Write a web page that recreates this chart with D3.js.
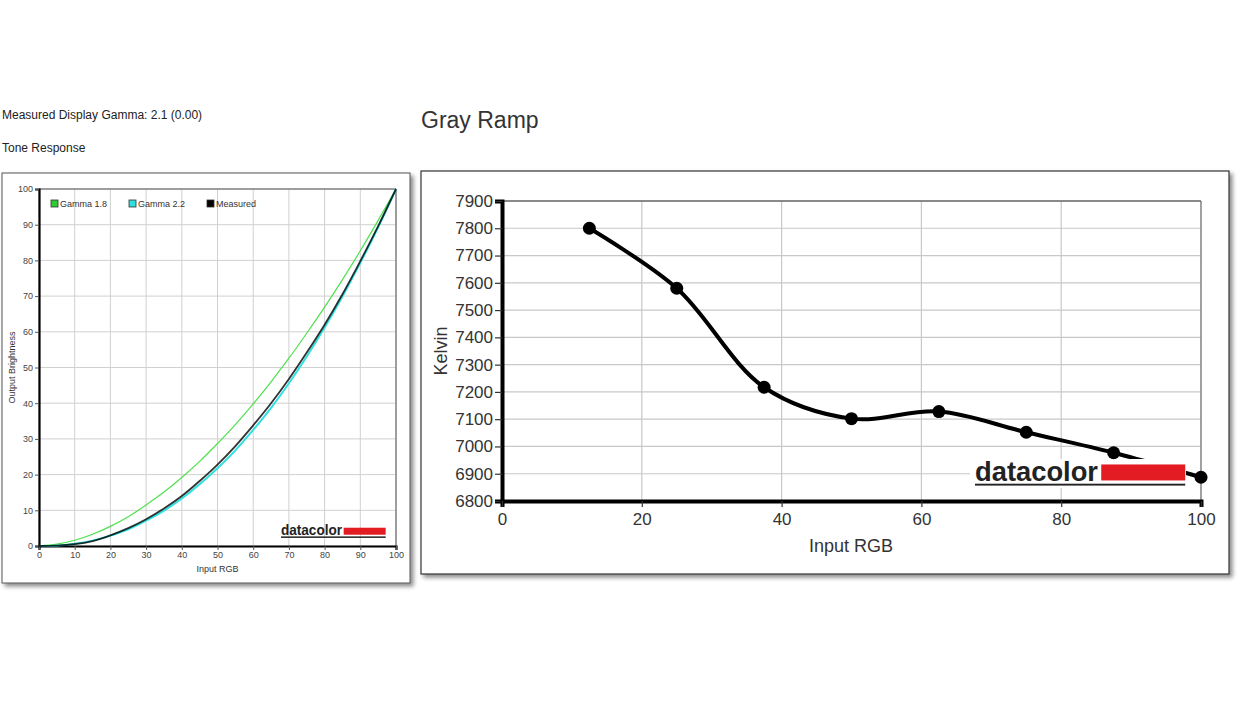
<!DOCTYPE html>
<html>
<head>
<meta charset="utf-8">
<script src="https://cdn.jsdelivr.net/npm/d3@7"></script>
<style>
  body { margin: 0; background: #fff; }
  svg { display: block; font-family: "Liberation Sans", Arial, sans-serif; }
</style>
</head>
<body>
<svg id="chart" width="1246" height="701"></svg>
<script>
// Tone response data
const toneX    = [0, 5, 10, 15, 20, 25, 30, 35, 40, 45, 50, 55, 60, 65, 70, 75, 80, 85, 90, 95, 100];
const gamma18  = [0, 0.5, 1.6, 3.3, 5.5, 8.2, 11.5, 15.1, 19.2, 23.7, 28.7, 34.0, 39.8, 46.0, 52.6, 59.6, 66.9, 74.6, 82.7, 91.2, 100];
const gamma22  = [0, 0.1, 0.6, 1.5, 2.9, 4.7, 7.1, 9.9, 13.3, 17.3, 21.8, 26.8, 32.5, 38.7, 45.6, 53.1, 61.2, 69.9, 79.3, 89.3, 100];
const measured = [0, 0.1, 0.5, 1.4, 3.0, 5.0, 7.5, 10.5, 14.0, 18.2, 22.8, 28.0, 33.8, 40.0, 46.8, 54.2, 62.0, 70.5, 79.8, 89.6, 100];
const toneTicks = [0, 10, 20, 30, 40, 50, 60, 70, 80, 90, 100];
const toneLegend = ["Gamma 1.8", "Gamma 2.2", "Measured"];

// Gray ramp data
const rampInput  = [12.5, 25, 37.5, 50, 62.5, 75, 87.5, 100];
const rampKelvin = [7800, 7580, 7217, 7102, 7128, 7052, 6977, 6887];
const kelvinTicks = [6800, 6900, 7000, 7100, 7200, 7300, 7400, 7500, 7600, 7700, 7800, 7900];
const rampTicks = [0, 20, 40, 60, 80, 100];

const svg = d3.select("#chart");

// drop shadow for the two panels
const defs = svg.append("defs");
const f = defs.append("filter").attr("id", "shadow")
    .attr("x", "-5%").attr("y", "-5%").attr("width", "115%").attr("height", "115%");
f.append("feDropShadow").attr("dx", 3).attr("dy", 3).attr("stdDeviation", 2)
    .attr("flood-color", "#000").attr("flood-opacity", 0.45);

// header texts
svg.append("text").attr("x", 2).attr("y", 119).style("font-size", "12px").attr("fill", "#222")
    .text("Measured Display Gamma: 2.1 (0.00)");
svg.append("text").attr("x", 2).attr("y", 152).style("font-size", "12px").attr("fill", "#222")
    .text("Tone Response");
svg.append("text").attr("x", 421).attr("y", 128).style("font-size", "23px").attr("fill", "#333")
    .text("Gray Ramp");

// datacolor logo helper
function logo(g, x, y, size, textW, barW, barH) {
    const t = g.append("text").attr("x", x).attr("y", y)
        .style("font-size", size + "px").style("font-weight", "bold").attr("fill", "#222")
        .attr("textLength", textW).attr("lengthAdjust", "spacingAndGlyphs")
        .text("datacolor");
    g.append("rect").attr("x", x + textW + size * 0.12).attr("y", y - barH - size * 0.02)
        .attr("width", barW).attr("height", barH).attr("fill", "#e31b23");
    g.append("rect").attr("x", x).attr("y", y + size * 0.1)
        .attr("width", textW + size * 0.12 + barW).attr("height", Math.max(1.5, size * 0.07)).attr("fill", "#222");
}

// ---------------- Tone Response chart ----------------
(function () {
    const box = { x: 2, y: 173, w: 408, h: 410 };
    const p = { left: 39, right: 396, top: 189, bottom: 546 };

    svg.append("rect").attr("x", box.x).attr("y", box.y).attr("width", box.w).attr("height", box.h)
        .attr("fill", "#fff").attr("stroke", "#555").attr("stroke-width", 1).attr("filter", "url(#shadow)");

    const x = d3.scaleLinear().domain([0, 100]).range([p.left, p.right]);
    const y = d3.scaleLinear().domain([0, 100]).range([p.bottom, p.top]);
    const g = svg.append("g");

    g.selectAll(".vg").data(toneTicks).enter().append("line")
        .attr("x1", d => x(d)).attr("x2", d => x(d)).attr("y1", p.top).attr("y2", p.bottom)
        .attr("stroke", "#d0d0d0").attr("stroke-width", 1);
    g.selectAll(".hg").data(toneTicks).enter().append("line")
        .attr("x1", p.left).attr("x2", p.right).attr("y1", d => y(d)).attr("y2", d => y(d))
        .attr("stroke", "#d0d0d0").attr("stroke-width", 1);

    // top/right frame
    g.append("line").attr("x1", p.left).attr("x2", p.right).attr("y1", p.top).attr("y2", p.top)
        .attr("stroke", "#555").attr("stroke-width", 1);
    g.append("line").attr("x1", p.right).attr("x2", p.right).attr("y1", p.top).attr("y2", p.bottom)
        .attr("stroke", "#555").attr("stroke-width", 1);

    const yAxis = g.append("g").attr("transform", `translate(${p.left},0)`)
        .call(d3.axisLeft(y).tickValues(toneTicks).tickSize(4).tickPadding(2));
    const xAxis = g.append("g").attr("transform", `translate(0,${p.bottom})`)
        .call(d3.axisBottom(x).tickValues(toneTicks).tickSize(4).tickPadding(2));
    [yAxis, xAxis].forEach(a => {
        a.select(".domain").attr("stroke", "#000").attr("stroke-width", 2.2);
        a.selectAll(".tick line").attr("stroke", "#555");
        a.selectAll(".tick text").style("font-size", "9px").attr("fill", "#444")
            .style("font-family", "'Liberation Sans', Arial, sans-serif");
    });

    g.append("text").attr("transform", `translate(15,${(p.top + p.bottom) / 2}) rotate(-90)`)
        .attr("text-anchor", "middle").style("font-size", "9px").attr("fill", "#333")
        .text("Output Brightness");
    g.append("text").attr("x", (p.left + p.right) / 2).attr("y", 572)
        .attr("text-anchor", "middle").style("font-size", "9px").attr("fill", "#333")
        .text("Input RGB");

    logo(g, 281, 535, 14, 61, 42, 7);

    const line = d3.line().x((d, i) => x(toneX[i])).y(d => y(d)).curve(d3.curveMonotoneX);
    g.append("path").datum(gamma18).attr("d", line).attr("fill", "none")
        .attr("stroke", "#4ee04e").attr("stroke-width", 1.2);
    g.append("path").datum(gamma22).attr("d", line).attr("fill", "none")
        .attr("stroke", "#2fe0e0").attr("stroke-width", 2);
    g.append("path").datum(measured).attr("d", line).attr("fill", "none")
        .attr("stroke", "#000").attr("stroke-opacity", 0.8).attr("stroke-width", 1.8);

    // legend
    const legColors = ["#2ecc2e", "#2fe0e0", "#000"];
    const legX = [51, 129, 207];
    const lg = g.selectAll(".leg").data(toneLegend).enter().append("g")
        .attr("transform", (d, i) => `translate(${legX[i]},200)`);
    lg.append("rect").attr("width", 7).attr("height", 7)
        .attr("fill", (d, i) => legColors[i]).attr("stroke", "#333").attr("stroke-width", 0.8);
    lg.append("text").attr("x", 9).attr("y", 7).style("font-size", "9px").attr("fill", "#333")
        .text(d => d);
})();

// ---------------- Gray Ramp chart ----------------
(function () {
    const box = { x: 421, y: 171, w: 808, h: 403 };
    const p = { left: 502, right: 1201, top: 201, bottom: 501 };

    svg.append("rect").attr("x", box.x).attr("y", box.y).attr("width", box.w).attr("height", box.h)
        .attr("fill", "#fff").attr("stroke", "#333").attr("stroke-width", 1.2).attr("filter", "url(#shadow)");

    const x = d3.scaleLinear().domain([0, 100]).range([p.left, p.right]);
    const y = d3.scaleLinear().domain([6800, 7900]).range([p.bottom, p.top]);
    const g = svg.append("g");

    g.selectAll(".vg").data(rampTicks).enter().append("line")
        .attr("x1", d => x(d)).attr("x2", d => x(d)).attr("y1", p.top).attr("y2", p.bottom)
        .attr("stroke", "#c8c8c8").attr("stroke-width", 1.2);
    g.selectAll(".hg").data(kelvinTicks).enter().append("line")
        .attr("x1", p.left).attr("x2", p.right).attr("y1", d => y(d)).attr("y2", d => y(d))
        .attr("stroke", "#c8c8c8").attr("stroke-width", 1.2);

    g.append("line").attr("x1", p.left).attr("x2", p.right).attr("y1", p.top).attr("y2", p.top)
        .attr("stroke", "#333").attr("stroke-width", 1.2);
    g.append("line").attr("x1", p.right).attr("x2", p.right).attr("y1", p.top).attr("y2", p.bottom)
        .attr("stroke", "#777").attr("stroke-width", 1.2);

    const yAxis = g.append("g").attr("transform", `translate(${p.left},0)`)
        .call(d3.axisLeft(y).tickValues(kelvinTicks).tickSize(7).tickPadding(2).tickFormat(d3.format("d")));
    const xAxis = g.append("g").attr("transform", `translate(0,${p.bottom})`)
        .call(d3.axisBottom(x).tickValues(rampTicks).tickSize(6).tickPadding(6));
    [yAxis, xAxis].forEach(a => {
        a.select(".domain").attr("stroke", "#000").attr("stroke-width", 4);
        a.selectAll(".tick line").attr("stroke", "#333").attr("stroke-width", 1.2);
        a.selectAll(".tick text").style("font-size", "17px").attr("fill", "#333")
            .style("font-family", "'Liberation Sans Narrow', 'Liberation Sans', Arial, sans-serif");
    });

    g.append("text").attr("transform", `translate(447,${(p.top + p.bottom) / 2}) rotate(-90)`)
        .attr("text-anchor", "middle").style("font-size", "18px").attr("fill", "#333")
        .text("Kelvin");
    g.append("text").attr("x", 851).attr("y", 552)
        .attr("text-anchor", "middle").style("font-size", "18px").attr("fill", "#333")
        .text("Input RGB");

    const pts = rampInput.map((v, i) => [v, rampKelvin[i]]);
    const line = d3.line().x(d => x(d[0])).y(d => y(d[1])).curve(d3.curveCatmullRom.alpha(0.5));
    g.append("path").datum(pts).attr("d", line).attr("fill", "none")
        .attr("stroke", "#000").attr("stroke-width", 4).attr("stroke-linejoin", "round");

    // logo sits on a white plate above the line
    const lg = g.append("g");
    lg.append("rect").attr("x", 970).attr("y", 459).attr("width", 216).attr("height", 29).attr("fill", "#fff");
    logo(lg, 975, 481, 27, 123, 84, 16);

    g.selectAll(".pt").data(pts).enter().append("circle")
        .attr("cx", d => x(d[0])).attr("cy", d => y(d[1])).attr("r", 6.5).attr("fill", "#000");
})();
</script>
</body>
</html>
